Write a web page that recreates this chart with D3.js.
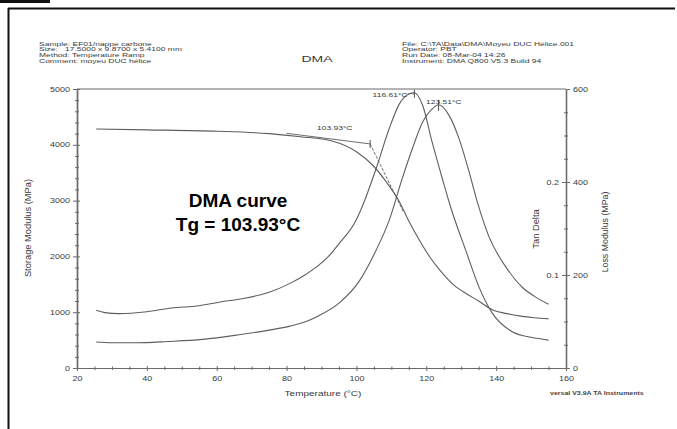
<!DOCTYPE html>
<html>
<head>
<meta charset="utf-8">
<script src="https://cdn.jsdelivr.net/npm/d3@7"></script>
<style>
  html, body { margin: 0; padding: 0; background: #fff; }
  svg { display: block; }
  text { font-family: "Liberation Sans", Arial, sans-serif; }
</style>
</head>
<body>
<svg id="chart" width="677" height="429"></svg>
<script>
// ---- data (temperature in °C) ----
const storageTemp = [25.5, 40, 60, 75, 84, 93, 100, 104.6, 108.5, 112.3, 115.1, 118, 121, 124.6, 128, 131.5, 135, 139, 143, 147, 151, 155];
const storageMPa  = [4283, 4268, 4243, 4200, 4145, 4068, 3876, 3638, 3339, 2980, 2622, 2294, 1990, 1702, 1480, 1330, 1200, 1040, 975, 930, 900, 880];

const lossTemp = [25.5, 28, 32, 40, 47, 55, 61, 68, 75, 81, 85, 88.5, 92, 95.1, 99.9, 101.7, 105.6, 109.4, 112.3, 115, 116.61, 118.9, 121.7, 124.6, 127.1, 131.3, 135.1, 138.9, 144.6, 150, 155];
const lossMPa  = [124, 119, 117, 121, 129, 134, 142, 150, 163, 182, 199, 217, 240, 268, 318, 348, 428, 515, 568, 589, 592, 566, 485, 407, 343, 253, 174, 118, 78, 66, 60];

const tanTemp  = [25.5, 30, 37, 46, 56, 66, 75, 81, 85.6, 89.4, 95.1, 100.9, 105.6, 109.4, 113.1, 116, 118.9, 121.7, 123.51, 126.6, 129.4, 132.3, 134.5, 138, 142.8, 147.4, 151, 155];
const tanDelta = [0.028, 0.0272, 0.0271, 0.0285, 0.0308, 0.0355, 0.0407, 0.045, 0.050, 0.0565, 0.070, 0.094, 0.1264, 0.1590, 0.2036, 0.2357, 0.2639, 0.2786, 0.283, 0.2711, 0.2464, 0.2103, 0.18, 0.1407, 0.1085, 0.0871, 0.077, 0.0686];

// onset (Tg) construction on the storage modulus
const onsetTemp = 103.93;
const onsetMPa = 4016;
const baselineTangent = [[80, 4206], [onsetTemp, onsetMPa]];
const steepTangent = [[onsetTemp, onsetMPa], [113.5, 2791]];

// peaks
const lossPeakTemp = 116.61;
const tanPeakTemp = 123.51;

// ticks
const tempTicks = [20, 40, 60, 80, 100, 120, 140, 160];
const storageTicks = [0, 1000, 2000, 3000, 4000, 5000];
const lossTicks = [0, 200, 400, 600];
const tanTicks = [0.1, 0.2];

// header
const headerLeft = ["Sample: EF01/nappe carbone", "Size:   17.5000 x 9.8700 x 5.4100 mm", "Method: Temperature Ramp", "Comment: moyeu DUC hélice"];
const headerRight = ["File: C:\\TA\\Data\\DMA\\Moyeu DUC Hélice.001", "Operator: PBT", "Run Date: 08-Mar-04 14:26", "Instrument: DMA Q800 V5.3 Build 94"];

// ---- layout ----
const svg = d3.select("#chart");
const L = 77, R = 566, T = 89, B = 368;
const squish = "scale(1,0.7)";
const ink = "#3a3a3a", lineCol = "#5e5e5e", axisCol = "#6a6a6a";

const x = d3.scaleLinear().domain([20, 160]).range([L, R]);
const yS = d3.scaleLinear().domain([0, 5000]).range([B, T]);
const yL = d3.scaleLinear().domain([0, 600]).range([B, T]);
const yT = d3.scaleLinear().domain([0, 0.3]).range([B, T]);

// page frame
svg.append("rect").attr("x", 0).attr("y", 0).attr("width", 50).attr("height", 3).attr("fill", "#111");
svg.append("line").attr("x1", 8).attr("x2", 675).attr("y1", 8.5).attr("y2", 8.5).attr("stroke", "#111").attr("stroke-width", 2);
svg.append("line").attr("x1", 8.5).attr("x2", 8.5).attr("y1", 8).attr("y2", 429).attr("stroke", "#111").attr("stroke-width", 2);

// header text
function sqText(g, tx, ty, str, size, anchor, weight) {
  return g.append("text")
    .attr("transform", `translate(${tx},${ty}) ${squish}`)
    .attr("font-size", size)
    .attr("text-anchor", anchor || "start")
    .attr("font-weight", weight || "normal")
    .attr("fill", ink)
    .text(str);
}
const head = svg.append("g");
headerLeft.forEach((s, i) => sqText(head, 39, 45.5 + i * 5.8, s, 8.5).attr("xml:space", "preserve"));
headerRight.forEach((s, i) => sqText(head, 402, 45.5 + i * 5.8, s, 8.5));
sqText(head, 317, 61.5, "DMA", 14, "middle");

// plot frame top
svg.append("line").attr("x1", L).attr("x2", R).attr("y1", T).attr("y2", T).attr("stroke", axisCol).attr("stroke-width", 1);

function styleAxis(g) {
  g.select(".domain").attr("stroke", axisCol).attr("stroke-width", 1.2);
  g.selectAll(".tick line").attr("stroke", axisCol);
  g.selectAll(".tick text").attr("fill", ink).attr("font-size", 9)
    .attr("font-family", '"Liberation Sans", Arial, sans-serif');
}
function minors(step, lo, hi, majors) {
  const out = [];
  for (let v = lo; v <= hi + 1e-9; v += step) {
    const r = Math.round(v * 1000) / 1000;
    if (!majors.some(m => Math.abs(m - r) < 1e-9)) out.push(r);
  }
  return out;
}

// left axis: storage modulus
const gLeft = svg.append("g").attr("transform", `translate(${L},0)`);
gLeft.call(d3.axisLeft(yS).tickValues(storageTicks).tickFormat(d3.format("d")).tickSize(4).tickPadding(3).tickSizeOuter(0));
styleAxis(gLeft);
gLeft.selectAll(".tick text").attr("transform", squish);
gLeft.append("g").call(d3.axisLeft(yS).tickValues(storageTicks).tickSize(-3).tickFormat("").tickSizeOuter(0)).call(styleAxis);
const sMin = minors(200, 0, 5000, storageTicks);
gLeft.append("g").call(d3.axisLeft(yS).tickValues(sMin).tickSize(2).tickFormat("").tickSizeOuter(0)).call(styleAxis);
gLeft.append("g").call(d3.axisLeft(yS).tickValues(sMin).tickSize(-2).tickFormat("").tickSizeOuter(0)).call(styleAxis);

// right axis: loss modulus (labels right) and tan delta (labels left)
const gRight = svg.append("g").attr("transform", `translate(${R},0)`);
gRight.call(d3.axisRight(yL).tickValues(lossTicks).tickFormat(d3.format("d")).tickSize(4).tickPadding(3).tickSizeOuter(0));
styleAxis(gRight);
gRight.selectAll(".tick text").attr("transform", squish);
const gTan = gRight.append("g").call(d3.axisLeft(yT).tickValues(tanTicks).tickSize(4).tickPadding(3).tickFormat(d3.format(".1f")).tickSizeOuter(0));
styleAxis(gTan);
gTan.select(".domain").remove();
gTan.selectAll(".tick text").attr("transform", squish);
const lMin = minors(50, 0, 600, lossTicks);
gRight.append("g").call(d3.axisRight(yL).tickValues(lMin).tickSize(2).tickFormat("").tickSizeOuter(0)).call(styleAxis);
gRight.append("g").call(d3.axisRight(yL).tickValues(lMin).tickSize(-2).tickFormat("").tickSizeOuter(0)).call(styleAxis);

// bottom axis: temperature
const gBot = svg.append("g").attr("transform", `translate(0,${B})`);
gBot.call(d3.axisBottom(x).tickValues(tempTicks).tickFormat(d3.format("d")).tickSize(3).tickPadding(2).tickSizeOuter(0));
styleAxis(gBot);
gBot.selectAll(".tick text").attr("y", 0).attr("dy", null).attr("transform", "translate(0,13) " + squish);
gBot.append("g").call(d3.axisBottom(x).tickValues(tempTicks).tickSize(-2).tickFormat("").tickSizeOuter(0)).call(styleAxis);
const tMin = minors(5, 20, 160, tempTicks);
gBot.append("g").call(d3.axisBottom(x).tickValues(tMin).tickSize(2).tickFormat("").tickSizeOuter(0)).call(styleAxis);
gBot.append("g").call(d3.axisBottom(x).tickValues(tMin).tickSize(-1.5).tickFormat("").tickSizeOuter(0)).call(styleAxis);

// axis titles
sqText(svg, 323, 396, "Temperature (°C)", 10, "middle");
sqText(svg, 550, 395, "versal V3.9A TA Instruments", 7, "start", "bold").attr("fill", "#444");
svg.append("text").attr("transform", "translate(31,228) rotate(-90)").attr("text-anchor", "middle")
  .attr("font-size", 9.3).attr("fill", ink).text("Storage Modulus (MPa)");
svg.append("text").attr("transform", "translate(539,229) rotate(-90)").attr("text-anchor", "middle")
  .attr("font-size", 9.3).attr("fill", ink).text("Tan Delta");
svg.append("text").attr("transform", "translate(608,232) rotate(-90)").attr("text-anchor", "middle")
  .attr("font-size", 8.8).attr("fill", ink).text("Loss Modulus (MPa)");

// curves
const curves = svg.append("g").attr("fill", "none").attr("stroke", lineCol).attr("stroke-width", 1.1);
const mk = (xs, ys, sy) => d3.line().curve(d3.curveMonotoneX).x((d, i) => x(xs[i])).y((d, i) => sy(ys[i]))(ys);
curves.append("path").attr("d", mk(storageTemp, storageMPa, yS));
curves.append("path").attr("d", mk(lossTemp, lossMPa, yL));
curves.append("path").attr("d", mk(tanTemp, tanDelta, yT));

// onset construction
const tl = d3.line().x(d => x(d[0])).y(d => yS(d[1]));
curves.append("path").attr("d", tl(baselineTangent)).attr("stroke-width", 0.9);
curves.append("path").attr("d", tl(steepTangent)).attr("stroke-width", 0.9).attr("stroke-dasharray", "3,1.5");
curves.append("line").attr("x1", x(onsetTemp)).attr("x2", x(onsetTemp))
  .attr("y1", yS(onsetMPa) - 4).attr("y2", yS(onsetMPa) + 4);
sqText(svg, 317, 130, onsetTemp.toFixed(2) + "°C", 8.5);

// peak markers
const lpx = x(lossPeakTemp), lpy = yL(592);
curves.append("line").attr("x1", lpx).attr("x2", lpx).attr("y1", lpy - 3).attr("y2", lpy + 5);
curves.append("line").attr("x1", lpx - 6).attr("x2", lpx).attr("y1", lpy + 1).attr("y2", lpy + 1).attr("stroke-width", 0.8);
sqText(svg, lpx - 7, 96.5, lossPeakTemp.toFixed(2) + "°C", 8.5, "end");

const tpx = x(tanPeakTemp), tpy = yT(0.283);
curves.append("line").attr("x1", tpx).attr("x2", tpx).attr("y1", tpy - 5).attr("y2", tpy + 6);
sqText(svg, 426, 104, tanPeakTemp.toFixed(2) + "°C", 8.5);

// overlay caption
svg.append("text").attr("x", 238).attr("y", 207).attr("text-anchor", "middle")
  .attr("font-size", 19).attr("font-weight", "bold").attr("fill", "#000").text("DMA curve");
svg.append("text").attr("x", 238).attr("y", 231).attr("text-anchor", "middle")
  .attr("font-size", 19).attr("font-weight", "bold").attr("fill", "#000").text("Tg = 103.93°C");
</script>
</body>
</html>
